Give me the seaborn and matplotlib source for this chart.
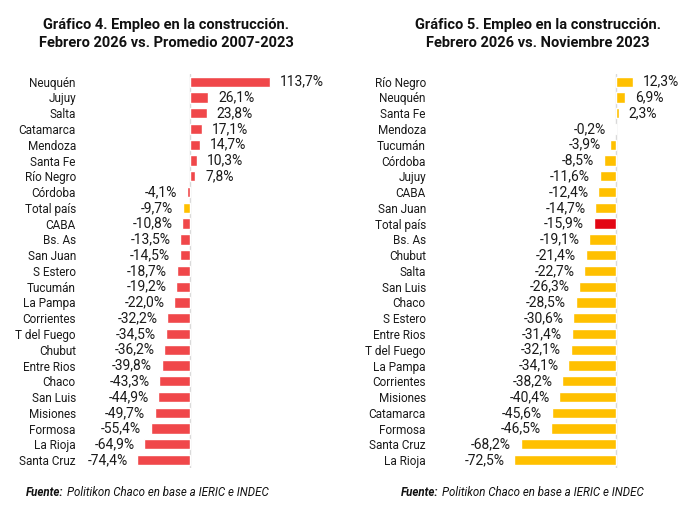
import numpy as np
import pandas as pd
import seaborn as sns
import matplotlib.pyplot as plt

# Gráfico 4: Febrero 2026 vs. Promedio 2007-2023
prov_4 = ['Neuquén', 'Jujuy', 'Salta', 'Catamarca', 'Mendoza', 'Santa Fe', 'Río Negro',
          'Córdoba', 'Total país', 'CABA', 'Bs. As', 'San Juan', 'S Estero', 'Tucumán',
          'La Pampa', 'Corrientes', 'T del Fuego', 'Chubut', 'Entre Rios', 'Chaco',
          'San Luis', 'Misiones', 'Formosa', 'La Rioja', 'Santa Cruz']
val_4 = [113.7, 26.1, 23.8, 17.1, 14.7, 10.3, 7.8, -4.1, -9.7, -10.8, -13.5, -14.5,
         -18.7, -19.2, -22.0, -32.2, -34.5, -36.2, -39.8, -43.3, -44.9, -49.7, -55.4,
         -64.9, -74.4]

# Gráfico 5: Febrero 2026 vs. Noviembre 2023
prov_5 = ['Río Negro', 'Neuquén', 'Santa Fe', 'Mendoza', 'Tucumán', 'Córdoba', 'Jujuy',
          'CABA', 'San Juan', 'Total país', 'Bs. As', 'Chubut', 'Salta', 'San Luis',
          'Chaco', 'S Estero', 'Entre Rios', 'T del Fuego', 'La Pampa', 'Corrientes',
          'Misiones', 'Catamarca', 'Formosa', 'Santa Cruz', 'La Rioja']
val_5 = [12.3, 6.9, 2.3, -0.2, -3.9, -8.5, -11.6, -12.4, -14.7, -15.9, -19.1, -21.4,
         -22.7, -26.3, -28.5, -30.6, -31.4, -32.1, -34.1, -38.2, -40.4, -45.6, -46.5,
         -68.2, -72.5]

ROJO = '#F0474A'
AMARILLO = '#FFC000'
ROJO_TOTAL = '#E30613'

sns.set_theme(style='white')
plt.rcParams['font.family'] = ['Roboto', 'DejaVu Sans']

fig = plt.figure(figsize=(6.87, 5.2), dpi=100)
ax1 = fig.add_axes([80 / 687, 0.10, 260 / 687, 0.758])
ax2 = fig.add_axes([430 / 687, 0.10, 250 / 687, 0.758])


def fmt(v):
    return f'{v:.1f}%'.replace('.', ',')


def panel(ax, provs, vals, base, destacado, xlim):
    df = pd.DataFrame({'prov': provs, 'val': vals})
    colores = {p: (destacado if p == 'Total país' else base) for p in provs}
    sns.barplot(data=df, x='val', y='prov', hue='prov', palette=colores, legend=False,
                orient='h', width=0.65, ax=ax, saturation=1)
    for cont in ax.containers:
        etiquetas = [fmt(r.get_width()) for r in cont]
        ax.bar_label(cont, labels=etiquetas, padding=7, fontsize=10,
                     color='#1a1a1a')
    ax.axvline(0, color='#d9d9d9', lw=1, zorder=0)
    ax.set_xlim(*xlim)
    ax.set_ylim(len(provs) - 0.5, -0.5)
    ax.set_xlabel('')
    ax.set_ylabel('')
    ax.set_xticks([])
    ax.tick_params(axis='y', length=0, pad=3, labelsize=8.5, labelcolor='#1a1a1a')
    sns.despine(ax=ax, left=True, bottom=True)


panel(ax1, prov_4, val_4, ROJO, AMARILLO, (-156, 213))
panel(ax2, prov_5, val_5, AMARILLO, ROJO_TOTAL, (-133, 46))

fig.text(166 / 687, 1 - 34 / 520, 'Gráfico 4. Empleo en la construcción.\nFebrero 2026 vs. Promedio 2007-2023',
         ha='center', va='center', fontsize=10.5, fontweight='bold', linespacing=1.3, color='#111111')
fig.text(538 / 687, 1 - 34 / 520, 'Gráfico 5. Empleo en la construcción.\nFebrero 2026 vs. Noviembre 2023',
         ha='center', va='center', fontsize=10.5, fontweight='bold', linespacing=1.3, color='#111111')

for x0 in (26, 401):
    t = fig.text(x0 / 687, 1 - 492 / 520, 'Fuente:', ha='left', va='center', fontsize=8.3,
                 fontweight='bold', style='italic', color='#111111')
    fig.canvas.draw()
    bb = t.get_window_extent()
    fig.text(bb.x1 / 687 + 3 / 687, 1 - 492 / 520, 'Politikon Chaco en base a IERIC e INDEC',
             ha='left', va='center', fontsize=8.3, style='italic', color='#111111')

fig.savefig('out.png', dpi=100)
